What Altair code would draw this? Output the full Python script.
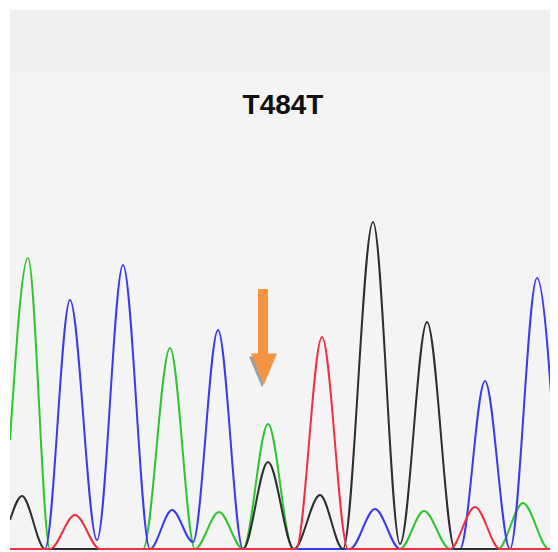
import altair as alt
import pandas as pd

# Knot points of each trace: scan position, signal intensity
green_x = [10, 28, 50, 143, 170, 195, 219, 243, 268, 293, 400, 424, 450, 498, 523, 549, 558]
green_y = [109, 291, 0, 0, 201, 0, 37, 0, 125, 0, 0, 38, 0, 0, 46, 0, 0]

blue_x = [10, 45, 70, 97, 123, 150, 172, 193, 218, 243, 350, 375, 400, 460, 485, 510, 537, 558]
blue_y = [0, 0, 249, 9, 284, 0, 39, 7, 219, 0, 0, 40, 0, 0, 168, 0, 271, 49]

black_x = [10, 22, 45, 243, 268, 294, 320, 343, 373, 400, 427, 455, 558]
black_y = [29, 53, 0, 0, 87, 0, 54, 0, 327, 5, 227, 0, 0]

red_x = [10, 50, 75, 100, 296, 322, 348, 450, 475, 500, 558]
red_y = [0, 0, 34, 0, 0, 212, 0, 0, 42, 0, 0]

channels = ["A", "C", "G", "T"]
channel_colors = ["#30c530", "#3a3aee", "#2e2e2e", "#ee3042"]

title_text = "T484T"
arrow_x = [263]
arrow_top = [260]
arrow_bottom = [193]
arrow_head = [180]

rows = []
for ch, xs, ys in [("A", green_x, green_y), ("C", blue_x, blue_y),
                   ("G", black_x, black_y), ("T", red_x, red_y)]:
    for i, (xv, yv) in enumerate(zip(xs, ys)):
        rows.append({"channel": ch, "x": xv, "y": yv, "i": i})
traces = pd.DataFrame(rows)

W = 540
H = 542
xs = alt.Scale(domain=[10, 10 + W], nice=False, zero=False)
ys = alt.Scale(domain=[-3, 539], nice=False, zero=False)

band = alt.Chart(pd.DataFrame({"a": [0]})).mark_rect(color="#f0f0f0").encode(
    x=alt.value(0), x2=alt.value(W), y=alt.value(0), y2=alt.value(62)
)

lines = alt.Chart(traces).mark_line(interpolate="monotone", strokeWidth=2, clip=True).encode(
    x=alt.X("x:Q", scale=xs, axis=None),
    y=alt.Y("y:Q", scale=ys, axis=None),
    color=alt.Color("channel:N", scale=alt.Scale(domain=channels, range=channel_colors), legend=None),
    order="i:Q",
)

arrow_df = pd.DataFrame({"x": arrow_x, "top": arrow_top, "bottom": arrow_bottom, "head": arrow_head})
shaft = alt.Chart(arrow_df).mark_rule(color="#f39443", strokeWidth=10).encode(
    x=alt.X("x:Q", scale=xs), y=alt.Y("top:Q", scale=ys), y2="bottom:Q"
)
tri = "M-1,-1.2L1,-1.2L0,1.2Z"
shadow = alt.Chart(arrow_df).mark_point(shape=tri, size=676, filled=True, color="#8a8a8a",
                                        opacity=0.8, xOffset=-1, yOffset=3).encode(
    x=alt.X("x:Q", scale=xs), y=alt.Y("head:Q", scale=ys)
)
head = alt.Chart(arrow_df).mark_point(shape=tri, size=676, filled=True, color="#f39443",
                                      opacity=1, xOffset=1).encode(
    x=alt.X("x:Q", scale=xs), y=alt.Y("head:Q", scale=ys)
)

title = alt.Chart(pd.DataFrame({"t": [title_text]})).mark_text(
    font="Liberation Sans", fontWeight="bold", fontSize=28, color="#111111",
    align="center", baseline="alphabetic"
).encode(text="t:N", x=alt.value(273), y=alt.value(104))

chart = alt.layer(band, lines, shadow, shaft, head, title).properties(
    width=W, height=H,
    padding={"left": 2, "top": 2, "right": 0, "bottom": 0},
    autosize=alt.AutoSizeParams(type="none"),
    background="#ffffff",
).configure_view(stroke=None, fill="#f4f4f4")

chart.save("out.html", embed_options={"renderer": "svg", "actions": False})
